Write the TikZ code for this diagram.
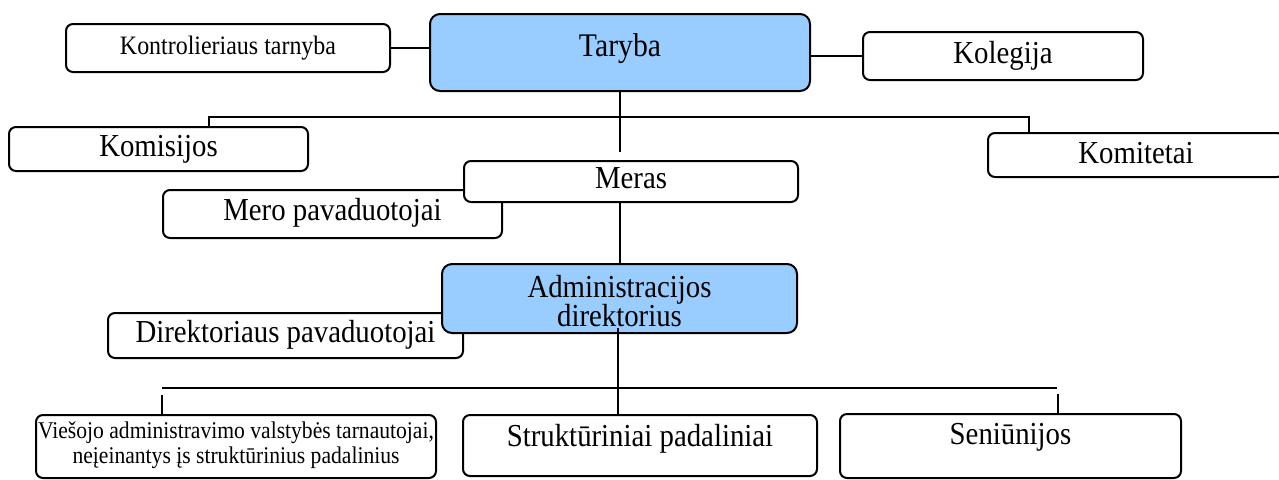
\documentclass[tikz,border=0pt]{standalone}
\usepackage{fontspec}
\setmainfont[FakeStretch=0.9]{Liberation Serif}
\definecolor{bossblue}{HTML}{99CCFF}

% Two centred lines with fixed baselines inside a box of given size:
% #1 width, #2 height, #3 top to first baseline, #4 baseline skip, #5/#6 lines
\newcommand\twolinebox[6]{\vbox to #2{\offinterlineskip\vskip#3%
  \hbox to #1{\hss\smash{#5}\hss}\vskip#4%
  \hbox to #1{\hss\smash{#6}\hss}\vfil}}

\begin{document}
\begin{tikzpicture}[x=0.5pt,y=-0.5pt,
  unit/.style={draw=black, line width=1pt, rounded corners=3.5pt, fill=white,
    inner sep=0pt, outer sep=0pt, anchor=north west,
    font=\fontsize{16}{17}\selectfont},
  lead/.style={unit, fill=bossblue, rounded corners=5pt},
  conn/.style={draw=black, line width=0.85pt},
]
\useasboundingbox (0,0) rectangle (1279,479);

% Council level
\node[unit, minimum width=162pt, text height=15pt, text depth=9pt,
      font=\fontsize{13.3}{14}\selectfont] (kontrol) at (66,24) {Kontrolieriaus tarnyba};
\node[lead, minimum width=190pt, text height=21pt, text depth=17.5pt,
      font=\fontsize{16.5}{17}\selectfont] (taryba) at (430,14) {Taryba};
\node[unit, minimum width=140pt, text height=15.5pt, text depth=8.5pt] (kolegija) at (863,32) {Kolegija};

\node[unit, minimum width=149.5pt, text height=14.5pt, text depth=7.5pt] (komisijos) at (9,127) {Komisijos};
\node[unit, minimum width=148pt, text height=15pt, text depth=7pt] (komitetai) at (988,133) {Komitetai};

% Mayor and deputies
\node[unit, minimum width=169.5pt, text height=15pt, text depth=9pt] (meropav) at (163,190) {Mero pavaduotojai};
\node[unit, minimum width=167pt, text height=13.5pt, text depth=7pt] (meras) at (464,161) {Meras};

% Administration
\node[unit, minimum width=177.5pt, text height=14.5pt, text depth=8pt] (dirpav) at (108,313) {Direktoriaus pavaduotojai};
\node[lead] (admin) at (442,264)
  {\twolinebox{177.5pt}{34.5pt}{16.5pt}{14.5pt}{Administracijos}{direktorius}};

% Units under the director
\node[unit, font=\fontsize{12}{13}\selectfont] (viesojo) at (36,415)
  {\twolinebox{200pt}{31.5pt}{11.5pt}{12.5pt}{Viešojo administravimo valstybės tarnautojai,}{neįeinantys įs struktūrinius padalinius}};
\node[unit, minimum width=177pt, text height=15.5pt, text depth=15pt] (strukt) at (463,415) {Struktūriniai padaliniai};
\node[unit, minimum width=170.5pt, text height=15pt, text depth=17pt] (seniun) at (840,414) {Seniūnijos};

% Connectors
\coordinate (busA1) at (209,117);
\coordinate (busA2) at (1029,117);
\coordinate (tarybastop) at (620,152);
\coordinate (stemM) at (620,202);
\coordinate (busB1) at (162,388);
\coordinate (busB2) at (1057,388);
\coordinate (stemV) at (162,395);
\coordinate (stemS) at (1058,394);
\coordinate (stemA) at (618,328);

\draw[conn] (kontrol.east) -- (kontrol.east -| taryba.west);
\draw[conn] (kolegija.west) -- (kolegija.west -| taryba.east);
\draw[conn] (taryba.south) -- (taryba.south |- tarybastop);
\draw[conn] (komisijos.north -| busA1) -- (busA1) -- (busA2) -- (komitetai.north -| busA2);
\draw[conn] (stemM) -- (stemM |- admin.north);
\draw[conn] (busB1) -- (busB2);
\draw[conn] (stemV) -- (stemV |- viesojo.north);
\draw[conn] (stemS) -- (stemS |- seniun.north);
\draw[conn] (stemA) -- (stemA |- strukt.north);
\end{tikzpicture}
\end{document}
